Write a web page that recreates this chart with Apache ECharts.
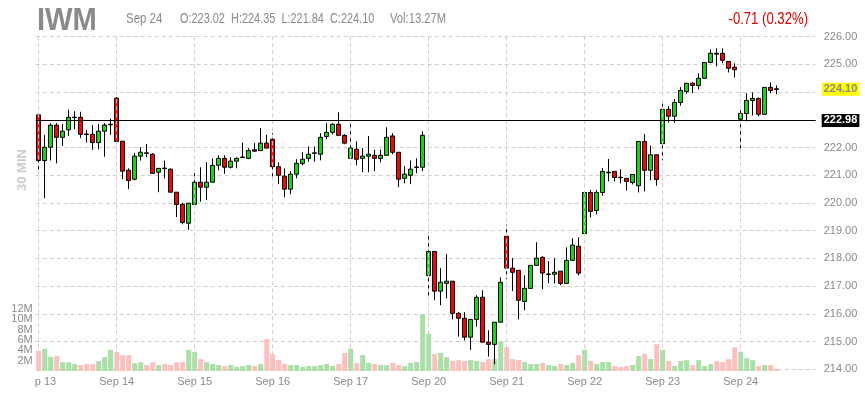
<!DOCTYPE html>
<html><head><meta charset="utf-8">
<script src="https://cdn.jsdelivr.net/npm/echarts@6/dist/echarts.min.js"></script>
<style>html,body{margin:0;padding:0;background:#fff}#c{width:865px;height:400px}</style>
</head><body><div id="c"></div>
<script>
// ---- data ----
const days = ['Sep 13','Sep 14','Sep 15','Sep 16','Sep 17','Sep 20','Sep 21','Sep 22','Sep 23','Sep 24'];
const times = ['09:30','10:00','10:30','11:00','11:30','12:00','12:30','13:00','13:30','14:00','14:30','15:00','15:30'];
const opens = [
223.18,221.53,222.01,222.81,222.37,222.64,223.08,223.09,222.49,222.48,222.18,222.59,222.82,
223.78,222.23,221.18,220.86,221.69,221.81,221.76,221.11,221.26,221.22,220.39,219.95,219.27,
219.95,220.75,220.57,220.75,221.36,221.61,221.29,221.51,221.64,221.61,221.92,221.89,222.16,
222.30,221.31,220.97,220.50,221.04,221.43,221.61,221.79,221.76,222.40,222.55,222.84,222.44,
221.61,221.94,221.61,221.69,221.72,221.61,221.72,222.42,221.83,220.89,221.00,221.28,221.29,
217.38,218.25,216.82,217.10,217.18,216.02,215.84,215.16,215.80,216.60,214.98,214.90,215.70,
218.80,217.65,217.57,216.45,216.92,217.75,218.04,217.42,217.43,217.54,217.10,217.93,218.44,
218.90,220.38,219.73,220.38,221.09,221.14,220.93,220.89,220.74,220.62,222.22,221.18,221.74,
222.14,223.38,223.13,223.63,224.02,224.32,224.24,224.50,225.07,225.40,225.40,225.11,224.90,
223.02,223.23,223.70,223.77,223.20,224.17,224.12];
const highs = [
223.24,222.46,222.88,222.88,222.85,223.36,223.31,223.29,222.64,222.81,222.85,222.88,223.05,
223.82,222.23,221.25,221.80,222.01,222.13,221.80,221.25,221.53,221.25,220.39,220.01,220.01,
221.11,221.29,221.47,221.61,221.72,221.72,221.65,221.65,222.18,221.98,222.16,222.70,222.46,
222.52,221.47,221.25,221.15,221.58,221.83,222.04,222.04,222.52,222.88,222.88,223.27,222.48,
222.97,222.22,221.98,222.42,221.92,221.92,222.73,222.52,221.83,221.33,221.54,221.61,222.59,
218.93,218.25,217.65,218.15,217.18,216.06,216.06,215.80,216.67,216.85,215.41,215.70,217.32,
219.22,218.01,217.57,217.39,217.75,218.58,218.08,217.90,218.01,217.54,218.40,218.73,218.76,
220.38,220.47,220.47,221.26,221.59,221.14,221.22,220.89,221.03,222.22,222.49,222.07,221.74,
223.59,223.50,223.75,224.18,224.32,224.36,224.68,225.07,225.54,225.58,225.58,225.11,225.04,
223.41,223.96,223.99,223.81,224.17,224.35,224.24];
const lows = [
221.07,220.17,221.53,221.43,222.06,222.42,222.66,222.34,222.18,221.92,221.94,221.67,222.46,
222.13,220.86,220.50,220.81,221.53,221.65,221.07,220.39,220.89,220.39,219.49,219.23,219.03,
219.95,220.05,220.11,220.75,221.18,221.05,221.25,221.25,221.64,221.58,221.84,221.89,221.98,
220.86,220.68,220.21,220.32,220.89,221.36,221.49,221.49,221.54,222.30,222.48,222.44,222.12,
221.61,221.36,221.11,221.11,221.15,221.47,221.72,221.76,220.57,220.71,220.68,221.07,221.15,
216.56,216.49,216.31,216.56,215.80,215.18,215.04,214.70,215.54,214.98,214.46,214.18,215.70,
217.25,216.82,215.80,216.13,216.92,217.75,216.89,217.10,217.10,217.03,217.10,217.93,217.39,
218.84,219.48,219.59,220.26,220.78,220.78,220.71,220.45,220.67,220.38,220.42,220.82,220.62,
221.54,222.90,222.90,223.51,223.94,223.96,224.10,224.50,225.04,224.93,225.04,224.71,224.53,
221.84,222.94,223.16,223.13,223.20,223.96,223.92];
const closes = [
221.53,222.01,222.81,222.37,222.59,223.09,223.10,222.48,222.47,222.18,222.59,222.81,222.84,
222.22,221.15,220.81,221.69,221.83,221.79,221.07,221.25,221.24,220.39,219.95,219.30,219.99,
220.75,220.57,220.75,221.36,221.61,221.29,221.51,221.61,221.66,221.89,221.87,222.16,221.98,
221.31,221.00,220.50,221.04,221.43,221.58,221.76,221.81,222.37,222.55,222.84,222.44,222.16,
221.98,221.58,221.69,221.76,221.61,221.72,222.37,221.83,220.86,221.04,221.22,221.30,222.44,
218.25,216.82,217.14,217.18,216.02,215.84,215.16,215.80,216.60,214.98,214.90,215.70,217.14,
217.65,217.50,216.49,216.92,217.75,218.01,217.47,217.44,217.50,217.10,217.93,218.48,217.47,
220.38,219.70,220.38,221.14,221.11,220.92,220.91,220.78,221.03,222.22,221.18,221.74,220.85,
223.38,223.13,223.63,224.06,224.32,224.24,224.50,225.07,225.40,225.37,225.15,224.86,224.81,
223.23,223.70,223.77,223.20,224.17,224.06,224.10];
const volumes = [
3.9,4.3,2.7,2.9,1.7,1.7,1.35,1.16,1.35,1.35,1.9,2.7,4.1,
3.7,3.1,3.1,1.5,1.7,1.16,1.7,1.16,1.35,1.16,1.7,1.7,4.1,
3.7,2.3,1.7,1.35,1.16,0.97,1.16,0.77,0.97,1.16,0.97,1.35,6.2,
3.3,2.1,1.35,1.16,1.16,0.77,0.97,0.97,1.16,1.35,0.97,1.35,3.5,
4.3,1.55,3.1,1.55,1.35,1.16,1.16,1.55,1.16,0.97,1.55,1.74,11.0,
7.2,3.3,3.5,2.7,1.94,2.1,1.94,2.1,1.94,1.74,2.3,2.3,5.8,
4.6,2.3,2.1,1.74,1.35,1.35,1.55,1.16,0.97,1.35,1.16,1.55,3.1,
4.1,1.94,1.35,1.74,1.74,0.97,0.77,0.97,1.16,2.9,3.3,2.3,5.2,
4.1,1.94,0.97,1.94,2.1,1.16,2.1,0.97,1.35,1.94,1.74,2.3,4.6,
3.7,2.5,2.1,0.97,1.16,1.16,0.39];
const priceMin = 214, priceMax = 226, priceStep = 1;
const volMax = 12, volStep = 2;
const refLine = 222.98;
const header = {sym:'IWM', date:'Sep 24', ohlc:'O:223.02  H:224.35  L:221.84  C:224.10', vol:'Vol:13.27M', chg:'-0.71 (0.32%)', period:'30 MIN'};

// ---- build ----
const FONT = '"Liberation Sans",Arial,sans-serif';
const GRAY = '#8a8a8a';
const UP = '#00e400', DOWN = '#ff0000', VUP = '#a8e0a6', VDOWN = '#ffbfbf';
const perDay = times.length;
const categories = [];
days.forEach(d => times.forEach(t => categories.push(d + ' ' + t)));
const candleData = opens.map((o, i) => [o, closes[i], lows[i], highs[i]]);
const volData = volumes.map((v, i) => ({value: v, itemStyle: {color: closes[i] >= opens[i] ? VUP : VDOWN}}));
const lastClose = closes[closes.length - 1];

const dayLines = days.map((d, k) => ({
  xAxis: categories[k * perDay],
  lineStyle: {type: [4, 3], color: '#cfcfcf', width: 1},
  label: {show: false}
}));

// volume pane geometry: 0 at y=371, volMax at y=309
const L = 35.7, R = 49.3;
const VTOP = 309, VBOT = 29;
const vPx = (400 - VBOT - VTOP) / volMax; // px per million
const volLabel = {margin: 3, color: GRAY, fontSize: 11, fontFamily: FONT, showMaxLabel: true, showMinLabel: true,
                  formatter: (v) => v === 0 ? '' : v + 'M'};
const chart = echarts.init(document.getElementById('c'), null, {renderer: 'canvas'});
chart.setOption({
  animation: false,
  backgroundColor: '#fff',
  textStyle: {fontFamily: FONT},
  grid: [
    {left: L, right: R, top: 36.7, bottom: 30.7},
    {left: L, right: R, top: VTOP, bottom: VBOT},
    // helper pane spanning volStep..volMax-volStep, used only for the in-between volume tick labels
    {left: L, right: R, top: VTOP + vPx * volStep, bottom: VBOT + vPx * volStep}
  ],
  xAxis: [
    {type: 'category', data: categories, gridIndex: 0, boundaryGap: true,
     axisLine: {show: false}, axisTick: {show: false}, splitLine: {show: false},
     axisLabel: {interval: (idx) => idx % perDay === 0, margin: 7, color: GRAY, fontSize: 11, fontFamily: FONT,
       formatter: (v) => v.split(' ').slice(0, 2).join(' ')}},
    {type: 'category', data: categories, gridIndex: 1, boundaryGap: true, show: false},
    {type: 'category', data: categories, gridIndex: 2, boundaryGap: true, show: false}
  ],
  yAxis: [
    {type: 'value', gridIndex: 0, position: 'right', min: priceMin, max: priceMax, interval: priceStep,
     axisLine: {show: false}, axisTick: {show: false},
     splitLine: {show: true, lineStyle: {type: [4, 3], color: '#cfcfcf', width: 1}},
     axisLabel: {margin: 8, color: GRAY, fontSize: 11, fontFamily: FONT, showMaxLabel: true, showMinLabel: true,
                 formatter: (v) => v.toFixed(2)}},
    {type: 'value', gridIndex: 1, position: 'left', min: 0, max: volMax, interval: volStep * 2,
     axisLine: {show: false}, axisTick: {show: false}, splitLine: {show: false}, axisLabel: volLabel},
    {type: 'value', gridIndex: 2, position: 'left', min: volStep, max: volMax - volStep, interval: volStep * 2,
     axisLine: {show: false}, axisTick: {show: false}, splitLine: {show: false}, axisLabel: volLabel}
  ],
  series: [
    {type: 'bar', name: 'Volume', xAxisIndex: 1, yAxisIndex: 1, data: volData, barWidth: 5, z: 1, silent: true},
    {type: 'candlestick', name: 'IWM', xAxisIndex: 0, yAxisIndex: 0, data: candleData, barWidth: 4, z: 3,
     itemStyle: {color: UP, color0: DOWN, borderColor: '#000', borderColor0: '#000', borderWidth: 1},
     markLine: {
       symbol: ['none', 'none'], silent: true, animation: false,
       data: dayLines.concat([
         {yAxis: refLine, lineStyle: {type: 'solid', color: '#000', width: 1},
          label: {show: true, position: 'end', distance: 6, formatter: refLine.toFixed(2), color: '#fff',
                  backgroundColor: '#000', fontWeight: 'bold', fontSize: 11, fontFamily: FONT, padding: [1, 2, 1, 2]}},
         {yAxis: lastClose, lineStyle: {type: 'solid', color: 'rgba(0,0,0,0)', width: 1},
          label: {show: true, position: 'end', distance: 6, formatter: lastClose.toFixed(2), color: '#888',
                  backgroundColor: '#ffff00', fontWeight: 'bold', fontSize: 11, fontFamily: FONT, padding: [1, 2, 1, 2]}}
       ])
     }}
  ],
  graphic: [
    {type: 'text', z: 10, x: 37, y: 21.5, scaleX: 0.91,
     style: {x: 0, y: 0, text: header.sym, fill: GRAY, font: 'bold 32px ' + FONT, verticalAlign: 'middle'}},
    {type: 'text', z: 10, x: 126, y: 19, scaleX: 0.82,
     style: {x: 0, y: 0, text: header.date, fill: GRAY, font: '14px ' + FONT, verticalAlign: 'middle'}},
    {type: 'text', z: 10, x: 180, y: 19, scaleX: 0.78,
     style: {x: 0, y: 0, text: header.ohlc, fill: GRAY, font: '14px ' + FONT, verticalAlign: 'middle'}},
    {type: 'text', z: 10, x: 390, y: 19, scaleX: 0.8,
     style: {x: 0, y: 0, text: header.vol, fill: GRAY, font: '14px ' + FONT, verticalAlign: 'middle'}},
    {type: 'text', z: 10, x: 808, y: 20, scaleX: 0.82,
     style: {x: 0, y: 0, text: header.chg, fill: '#e00000', font: '16px ' + FONT, align: 'right', verticalAlign: 'middle'}},
    {type: 'text', z: 10, rotation: Math.PI / 2, x: 22, y: 170,
     style: {x: 0, y: 0, text: header.period, fill: '#cccccc', font: 'bold 13px ' + FONT, align: 'center', verticalAlign: 'middle'}},
    {type: 'rect', z: 20, shape: {x: 0, y: 374, width: 34, height: 20}, style: {fill: '#fff'}}
  ]
});
</script></body></html>
